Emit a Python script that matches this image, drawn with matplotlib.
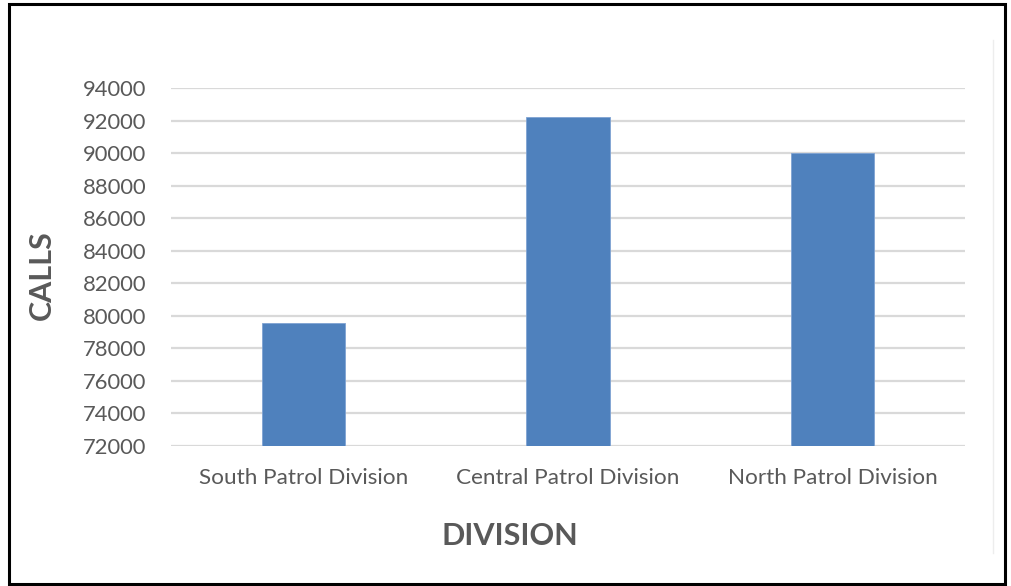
import matplotlib
matplotlib.use("Agg")
import matplotlib.pyplot as plt
from matplotlib.patches import Rectangle
from matplotlib.lines import Line2D

# chart data
divisions = ["South Patrol Division", "Central Patrol Division", "North Patrol Division"]
calls = [79550, 92200, 90030]
y_ticks = list(range(72000, 94001, 2000))

bar_color = "#4F81BD"
text_color = "#595959"
grid_color = "#D9D9D9"

fig = plt.figure(figsize=(10.11, 5.86), dpi=100)
W, H = 1011, 586

# plot area in pixels: left 171, right 965, top 88 (94000), bottom 446 (72000)
ax = fig.add_axes([171 / W, 1 - 446 / H, (965 - 171) / W, (446 - 88) / H])

x = range(len(divisions))
ax.bar(x, calls, width=0.315, color=bar_color, edgecolor="#7FA3D3", linewidth=0.6, zorder=3)

ax.set_xlim(-0.5, 2.5)
ax.set_ylim(72000, 94000)
ax.set_yticks(y_ticks)
ax.set_yticklabels([str(v) for v in y_ticks])
ax.set_xticks(list(x))
ax.set_xticklabels(divisions)

ax.grid(axis="y", color=grid_color, linewidth=1.6, zorder=0)
for s in ax.spines.values():
    s.set_visible(False)
ax.tick_params(length=0)
ax.tick_params(axis="y", pad=18, labelsize=15.8, labelcolor=text_color)
ax.tick_params(axis="x", pad=16, labelsize=16.2, labelcolor=text_color)
for lab in ax.get_xticklabels() + ax.get_yticklabels():
    lab.set_fontfamily("Lato")

# axis titles
fig.text(42 / W, 1 - 275 / H, "CALLS", rotation=90, ha="center", va="center",
         fontsize=22, fontweight="bold", color=text_color, family="Lato")
fig.text(510 / W, 1 - 536 / H, "DIVISION", ha="center", va="center",
         fontsize=22, fontweight="bold", color=text_color, family="Lato")

# faint vertical line near right edge
fig.add_artist(Line2D([993 / W, 993 / W], [1 - 40 / H, 1 - 553 / H],
                      color="#EDEDED", linewidth=1, transform=fig.transFigure))

# outer frame
fig.add_artist(Rectangle((9 / W, 1 - 584 / H), (1005 - 9) / W, (584 - 4) / H,
                         fill=False, edgecolor="black", linewidth=2.2,
                         transform=fig.transFigure))

fig.savefig("out.png", dpi=100, facecolor="white")
